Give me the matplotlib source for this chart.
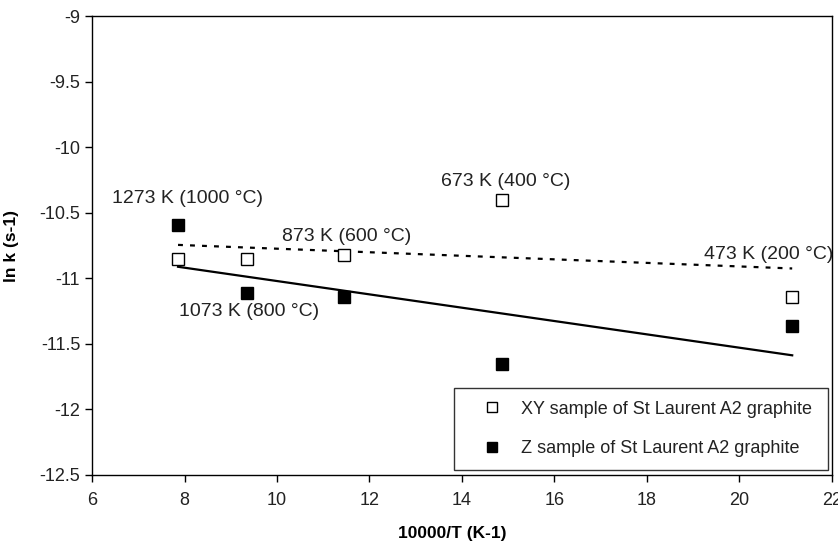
import numpy as np
import matplotlib.pyplot as plt

plt.rcParams['font.family'] = ['Liberation Sans', 'DejaVu Sans']

# data
invT = [7.86, 9.35, 11.45, 14.86, 21.14]
lnk_xy = [-10.855, -10.855, -10.82, -10.40, -11.14]
lnk_z = [-10.59, -11.11, -11.14, -11.65, -11.36]

labels = ['1273 K (1000 °C)', '1073 K (800 °C)', '873 K (600 °C)',
          '673 K (400 °C)', '473 K (200 °C)']
label_x = [6.43, 7.88, 10.11, 13.55, 19.23]
label_y = [-10.39, -11.25, -10.68, -10.26, -10.82]

xlabel = '10000/T (K-1)'
ylabel = 'ln k (s-1)'

fig = plt.figure(figsize=(8.38, 5.41), dpi=100)
ax = fig.add_axes([0.1098, 0.122, 0.883, 0.8484])

x = np.array(invT)
ax.plot(x, lnk_xy, 's', ms=8.5, mfc='white', mec='black', mew=1.0,
        label='XY sample of St Laurent A2 graphite', zorder=3)
ax.plot(x, lnk_z, 's', ms=8.5, mfc='black', mec='black', mew=1.0,
        label='Z sample of St Laurent A2 graphite', zorder=3)

# linear trend lines
xs = np.array([x.min(), x.max()])
p_xy = np.polyfit(x, lnk_xy, 1)
p_z = np.polyfit(x, lnk_z, 1)
ax.plot(xs, np.polyval(p_xy, xs), color='black', lw=1.6, ls=(0, (2.2, 3.2)))
ax.plot(xs, np.polyval(p_z, xs), color='black', lw=1.6)

for t, lx, ly in zip(labels, label_x, label_y):
    ax.text(lx, ly, t, fontsize=14, ha='left', va='center', color='#222222')

ax.set_xlim(6, 22)
ax.set_ylim(-12.5, -9)
ax.set_xticks(np.arange(6, 23, 2))
ax.set_yticks(np.arange(-12.5, -8.9, 0.5))
ax.set_yticklabels(['-12.5', '-12', '-11.5', '-11', '-10.5', '-10', '-9.5', '-9'])
ax.tick_params(direction='out', length=5, width=1, labelsize=13,
               labelcolor='#222222')
ax.tick_params(axis='x', pad=7)
for s in ax.spines.values():
    s.set_linewidth(1.0)

ax.set_xlabel(xlabel, fontsize=12.5, fontweight='bold')
ax.set_ylabel(ylabel, fontsize=12.5, fontweight='bold')
ax.xaxis.set_label_coords((452 - 92) / 740, -0.112)
ax.yaxis.set_label_coords(-0.099, 0.5)

leg = ax.legend(loc='lower left', bbox_to_anchor=(0.489, 0.011, 0.505, 0.168),
                mode='expand', fontsize=13, frameon=True, fancybox=False,
                edgecolor='black', labelspacing=1.25, handlelength=2.8,
                handletextpad=0.22, borderpad=0.7, borderaxespad=0,
                markerscale=0.85)
leg.get_frame().set_linewidth(1.0)
for txt in leg.get_texts():
    txt.set_color('#222222')

fig.savefig('out.png', dpi=100)
